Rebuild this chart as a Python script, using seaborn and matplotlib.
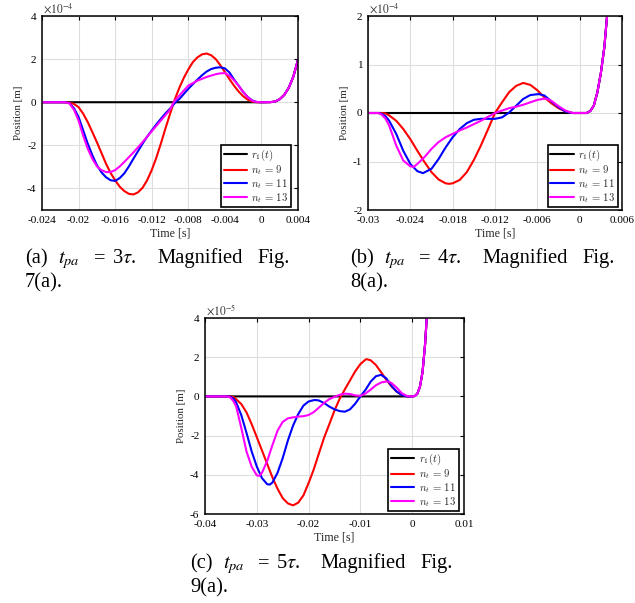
import numpy as np
import pandas as pd
import seaborn as sns
import matplotlib
matplotlib.use("Agg")
import matplotlib.pyplot as plt
from matplotlib.font_manager import FontProperties

# ---------------- data (values in units of the axis multiplier) ----------------
# Panel (a): t_pa = 3 tau, y in 1e-4 m
a_red_t = [-0.024, -0.0215, -0.021, -0.0205, -0.020, -0.0195, -0.019, -0.0185, -0.018, -0.0175, -0.017, -0.0165, -0.016, -0.0155, -0.015, -0.0145, -0.014, -0.0135, -0.013, -0.0125, -0.012, -0.0115, -0.011, -0.0105, -0.010, -0.0095, -0.009, -0.0085, -0.008, -0.0075, -0.007, -0.0065, -0.006, -0.0055, -0.005, -0.0045, -0.004, -0.0035, -0.003, -0.0025, -0.002, -0.0015, -0.001, -0.0005, 0.0]
a_red_v = [0, 0, -0.02, -0.08, -0.23, -0.53, -0.92, -1.38, -1.85, -2.35, -2.85, -3.28, -3.62, -3.92, -4.12, -4.25, -4.28, -4.18, -3.97, -3.62, -3.15, -2.58, -1.92, -1.22, -0.55, 0.1, 0.65, 1.12, 1.52, 1.86, 2.08, 2.22, 2.26, 2.18, 2.0, 1.72, 1.4, 1.07, 0.77, 0.5, 0.28, 0.12, 0.03, 0.0, 0.0]
a_blue_t = [-0.024, -0.0215, -0.021, -0.0205, -0.020, -0.0195, -0.019, -0.0185, -0.018, -0.0175, -0.017, -0.0165, -0.016, -0.0155, -0.015, -0.0145, -0.014, -0.0135, -0.013, -0.0125, -0.012, -0.0115, -0.011, -0.0105, -0.010, -0.0094, -0.009, -0.0085, -0.008, -0.0075, -0.007, -0.0065, -0.006, -0.0055, -0.005, -0.0045, -0.004, -0.0035, -0.003, -0.0025, -0.002, -0.0015, -0.001, -0.0005, 0.0]
a_blue_v = [0, 0, -0.04, -0.28, -0.69, -1.3, -1.92, -2.45, -2.92, -3.25, -3.48, -3.62, -3.65, -3.52, -3.3, -2.98, -2.62, -2.27, -1.92, -1.6, -1.31, -1.03, -0.77, -0.52, -0.3, 0.0, 0.14, 0.38, 0.62, 0.84, 1.05, 1.25, 1.42, 1.54, 1.6, 1.62, 1.57, 1.38, 1.06, 0.77, 0.48, 0.24, 0.08, 0.01, 0.0]
a_mag_t = [-0.024, -0.0215, -0.021, -0.0205, -0.020, -0.0195, -0.019, -0.0185, -0.018, -0.0175, -0.017, -0.0165, -0.016, -0.0155, -0.015, -0.0145, -0.014, -0.013, -0.012, -0.011, -0.010, -0.0096, -0.009, -0.008, -0.007, -0.006, -0.005, -0.0045, -0.004, -0.0035, -0.003, -0.0025, -0.002, -0.0015, -0.001, -0.0005, 0.0]
a_mag_v = [0, 0, -0.06, -0.35, -0.85, -1.55, -2.15, -2.62, -2.97, -3.15, -3.24, -3.24, -3.15, -2.98, -2.77, -2.55, -2.33, -1.85, -1.35, -0.85, -0.35, 0.0, 0.3, 0.77, 1.0, 1.17, 1.3, 1.34, 1.35, 1.23, 1.02, 0.77, 0.48, 0.23, 0.07, 0.01, 0.0]
a_rise_t = [0.0, 0.001, 0.0015, 0.002, 0.0025, 0.003, 0.0035, 0.004]
a_rise_v = [0.0, 0.005, 0.03, 0.14, 0.34, 0.68, 1.2, 1.97]

# Panel (b): t_pa = 4 tau, y in 1e-4 m
b_red_t = [-0.030, -0.028, -0.0275, -0.027, -0.026, -0.025, -0.024, -0.023, -0.022, -0.021, -0.020, -0.019, -0.0185, -0.018, -0.017, -0.016, -0.015, -0.014, -0.013, -0.012, -0.011, -0.010, -0.009, -0.008, -0.007, -0.006, -0.005, -0.004, -0.003, -0.002, -0.001, 0.0]
b_red_v = [0, 0, -0.01, -0.05, -0.16, -0.33, -0.54, -0.78, -1.01, -1.22, -1.37, -1.45, -1.46, -1.45, -1.38, -1.22, -0.97, -0.67, -0.34, 0.0, 0.22, 0.43, 0.56, 0.62, 0.58, 0.47, 0.32, 0.2, 0.1, 0.03, 0.0, 0.0]
b_blue_t = [-0.030, -0.0285, -0.028, -0.0275, -0.027, -0.026, -0.025, -0.024, -0.023, -0.0222, -0.021, -0.020, -0.019, -0.018, -0.017, -0.016, -0.015, -0.014, -0.013, -0.012, -0.011, -0.010, -0.009, -0.008, -0.007, -0.0058, -0.005, -0.004, -0.003, -0.002, -0.001, 0.0]
b_blue_v = [0, 0, -0.02, -0.07, -0.16, -0.43, -0.78, -1.05, -1.2, -1.24, -1.15, -0.95, -0.71, -0.5, -0.33, -0.21, -0.14, -0.12, -0.12, -0.12, -0.09, 0.01, 0.15, 0.29, 0.37, 0.39, 0.36, 0.24, 0.12, 0.03, 0.0, 0.0]
b_mag_t = [-0.030, -0.0285, -0.028, -0.0275, -0.027, -0.026, -0.025, -0.024, -0.0235, -0.023, -0.022, -0.021, -0.020, -0.019, -0.018, -0.017, -0.016, -0.015, -0.014, -0.013, -0.012, -0.011, -0.010, -0.009, -0.008, -0.007, -0.006, -0.0048, -0.004, -0.003, -0.002, -0.001, 0.0]
b_mag_v = [0, 0, -0.04, -0.12, -0.26, -0.67, -0.98, -1.10, -1.11, -1.05, -0.91, -0.74, -0.60, -0.50, -0.43, -0.36, -0.30, -0.23, -0.16, -0.08, 0.0, 0.05, 0.10, 0.13, 0.17, 0.22, 0.27, 0.30, 0.25, 0.14, 0.05, 0.0, 0.0]
b_rise_t = [0.0, 0.001, 0.0015, 0.002, 0.0025, 0.003, 0.0035, 0.004]
b_rise_v = [0.0, 0.0, 0.04, 0.15, 0.42, 0.82, 1.36, 2.2]

# Panel (c): t_pa = 5 tau, y in 1e-5 m
c_red_t = [-0.040, -0.035, -0.0345, -0.034, -0.033, -0.032, -0.031, -0.030, -0.029, -0.028, -0.027, -0.026, -0.025, -0.024, -0.023, -0.022, -0.021, -0.020, -0.019, -0.018, -0.017, -0.016, -0.015, -0.014, -0.013, -0.012, -0.011, -0.010, -0.009, -0.0088, -0.008, -0.007, -0.006, -0.005, -0.004, -0.003, -0.002, -0.001, 0.0]
c_red_v = [0, 0, -0.03, -0.14, -0.39, -0.81, -1.41, -2.08, -2.76, -3.44, -4.12, -4.71, -5.19, -5.46, -5.56, -5.42, -5.05, -4.42, -3.72, -2.9, -2.1, -1.42, -0.72, -0.12, 0.36, 0.82, 1.28, 1.65, 1.88, 1.9, 1.84, 1.6, 1.23, 0.85, 0.51, 0.24, 0.07, 0.0, 0.0]
c_blue_t = [-0.040, -0.0355, -0.035, -0.0345, -0.034, -0.033, -0.032, -0.031, -0.030, -0.029, -0.028, -0.0275, -0.027, -0.026, -0.025, -0.024, -0.023, -0.022, -0.021, -0.020, -0.019, -0.0185, -0.018, -0.017, -0.016, -0.015, -0.014, -0.013, -0.012, -0.011, -0.010, -0.009, -0.008, -0.007, -0.006, -0.005, -0.004, -0.003, -0.002, -0.001, 0.0]
c_blue_v = [0, 0, -0.03, -0.12, -0.3, -0.95, -1.85, -2.8, -3.58, -4.17, -4.48, -4.5, -4.4, -3.9, -3.15, -2.25, -1.49, -0.9, -0.47, -0.26, -0.19, -0.19, -0.21, -0.34, -0.52, -0.66, -0.75, -0.78, -0.66, -0.37, 0.0, 0.34, 0.76, 1.03, 1.1, 0.92, 0.54, 0.25, 0.07, 0.0, 0.0]
c_mag_t = [-0.040, -0.036, -0.0355, -0.035, -0.0345, -0.034, -0.033, -0.032, -0.031, -0.030, -0.0295, -0.029, -0.028, -0.027, -0.026, -0.025, -0.024, -0.023, -0.022, -0.021, -0.020, -0.019, -0.018, -0.017, -0.016, -0.015, -0.014, -0.013, -0.012, -0.011, -0.010, -0.009, -0.008, -0.007, -0.006, -0.005, -0.0045, -0.004, -0.003, -0.002, -0.001, 0.0]
c_mag_v = [0, 0, -0.02, -0.08, -0.25, -0.5, -1.6, -2.8, -3.58, -4.03, -4.05, -3.9, -3.3, -2.5, -1.75, -1.3, -1.12, -1.07, -1.03, -1.01, -0.95, -0.8, -0.57, -0.33, -0.14, -0.02, 0.08, 0.14, 0.12, 0.05, 0.03, 0.15, 0.35, 0.57, 0.71, 0.76, 0.75, 0.68, 0.45, 0.16, 0.02, 0.0]
c_rise_t = [0.0, 0.0005, 0.001, 0.0015, 0.002, 0.0025, 0.0028, 0.003]
c_rise_v = [0.0, 0.02, 0.14, 0.5, 1.25, 2.7, 4.0, 4.7]

# axes ticks / labels
a_xticks = [-0.024, -0.02, -0.016, -0.012, -0.008, -0.004, 0, 0.004]
a_xlabels = ["-0.024", "-0.02", "-0.016", "-0.012", "-0.008", "-0.004", "0", "0.004"]
a_yticks = [-4, -2, 0, 2, 4]
b_xticks = [-0.03, -0.024, -0.018, -0.012, -0.006, 0, 0.006]
b_xlabels = ["-0.03", "-0.024", "-0.018", "-0.012", "-0.006", "0", "0.006"]
b_yticks = [-2, -1, 0, 1, 2]
c_xticks = [-0.04, -0.03, -0.02, -0.01, 0, 0.01]
c_xlabels = ["-0.04", "-0.03", "-0.02", "-0.01", "0", "0.01"]
c_yticks = [-6, -4, -2, 0, 2, 4]

series_names = ["r1", "n9", "n11", "n13"]
legend_labels = [r"$r_1(t)$", r"$n_t\,=\,9$", r"$n_t\,=\,11$", r"$n_t\,=\,13$"]
colors = {"r1": "#000000", "n9": "#ff0000", "n11": "#0000ff", "n13": "#ff00ff"}

# ---------------- style ----------------
sns.set_theme(style="white")
plt.rcParams["font.family"] = ["Liberation Serif", "DejaVu Serif"]
plt.rcParams["mathtext.fontset"] = "stix"
plt.rcParams["axes.unicode_minus"] = False

W, H = 635, 603
fig = plt.figure(figsize=(W / 100, H / 100), dpi=100)


def px_axes(l, t, r, b):
    return fig.add_axes([l / W, 1 - b / H, (r - l) / W, (b - t) / H])


def build(tmin, red, blue, mag, rise):
    rows = []
    rt, rv = rise
    blk_t = [tmin, 0.0] + rt[1:]
    blk_v = [0.0, 0.0] + rv[1:]
    for name, (tt, vv) in zip(series_names, [(blk_t, blk_v),
                                             (red[0] + rt[1:], red[1] + rv[1:]),
                                             (blue[0] + rt[1:], blue[1] + rv[1:]),
                                             (mag[0] + rt[1:], mag[1] + rv[1:])]):
        for x, y in zip(tt, vv):
            rows.append((name, x, y))
    return pd.DataFrame(rows, columns=["series", "t", "v"])


def draw(ax, df, xlim, ylim, xticks, xlabels, yticks, expo, leg_dx):
    for name, lab in zip(series_names, legend_labels):
        sub = df[df.series == name]
        sns.lineplot(data=sub, x="t", y="v", ax=ax, color=colors[name], lw=1.5,
                     estimator=None, sort=False, label=lab)
    ax.set_xlim(*xlim)
    ax.set_ylim(*ylim)
    ax.set_xticks(xticks)
    ax.set_xticklabels(xlabels)
    ax.set_yticks(yticks)
    ax.set_yticklabels([str(v) for v in yticks])
    ax.grid(True, color="#dedede", lw=0.8)
    ax.set_axisbelow(True)
    for s in ax.spines.values():
        s.set_color("black")
        s.set_linewidth(1.1)
        s.set_visible(True)
    ax.tick_params(direction="in", top=True, right=True, length=3, width=0.8,
                   labelsize=8.1, pad=4, colors="black")
    ax.set_xlabel("Time [s]", fontsize=8.6, labelpad=2)
    ax.set_ylabel("Position [m]", fontsize=7.8, labelpad=3)
    ax.text(0.005, 1.0, expo, transform=ax.transAxes, ha="left", va="bottom",
            fontsize=8.3, color="#333333")
    leg = ax.legend(loc="lower right", bbox_to_anchor=(1.0 - leg_dx, 0.005),
                    prop=FontProperties(size=7.7, math_fontfamily="cm"),
                    frameon=True, fancybox=False, borderaxespad=0.15,
                    handlelength=2.2, handletextpad=0.4, labelspacing=0.0,
                    borderpad=0.25)
    leg.get_frame().set_edgecolor("black")
    leg.get_frame().set_linewidth(1.2)
    leg.get_frame().set_facecolor("white")
    leg.get_frame().set_alpha(1.0)


ax_a = px_axes(42, 16, 298, 210)
ax_b = px_axes(368, 16, 622, 210)
ax_c = px_axes(205, 318, 464, 514)

df_a = build(-0.024, (a_red_t, a_red_v), (a_blue_t, a_blue_v), (a_mag_t, a_mag_v), (a_rise_t, a_rise_v))
df_b = build(-0.030, (b_red_t, b_red_v), (b_blue_t, b_blue_v), (b_mag_t, b_mag_v), (b_rise_t, b_rise_v))
df_c = build(-0.040, (c_red_t, c_red_v), (c_blue_t, c_blue_v), (c_mag_t, c_mag_v), (c_rise_t, c_rise_v))

draw(ax_a, df_a, (-0.024, 0.004), (-5, 4), a_xticks, a_xlabels, a_yticks, r"$\times10^{-4}$", 0.02)
draw(ax_b, df_b, (-0.030, 0.006), (-2, 2), b_xticks, b_xlabels, b_yticks, r"$\times10^{-4}$", 0.01)
draw(ax_c, df_c, (-0.040, 0.010), (-6, 4), c_xticks, c_xlabels, c_yticks, r"$\times10^{-5}$", 0.015)

# ---------------- captions (justified by word placement) ----------------
cap_size = 14.8


def cap(words, xs, ybase):
    for w, x in zip(words, xs):
        fig.text(x / W, 1 - ybase / H, w, ha="left", va="baseline",
                 fontsize=cap_size, color="black")


cap(["(a)", r"$t_{pa}$", "=", r"3$\tau$.", "Magnified", "Fig."],
    [25, 58, 94, 112, 157, 257], 263)
cap(["7(a)."], [25], 287)
cap(["(b)", r"$t_{pa}$", "=", r"4$\tau$.", "Magnified", "Fig."],
    [350, 384, 419, 437, 482, 582], 263)
cap(["8(a)."], [350], 287)
cap(["(c)", r"$t_{pa}$", "=", r"5$\tau$.", "Magnified", "Fig."],
    [190, 223, 258, 276, 320, 420], 568)
cap(["9(a)."], [190], 592)

fig.savefig("out.png", dpi=100, facecolor="white")
